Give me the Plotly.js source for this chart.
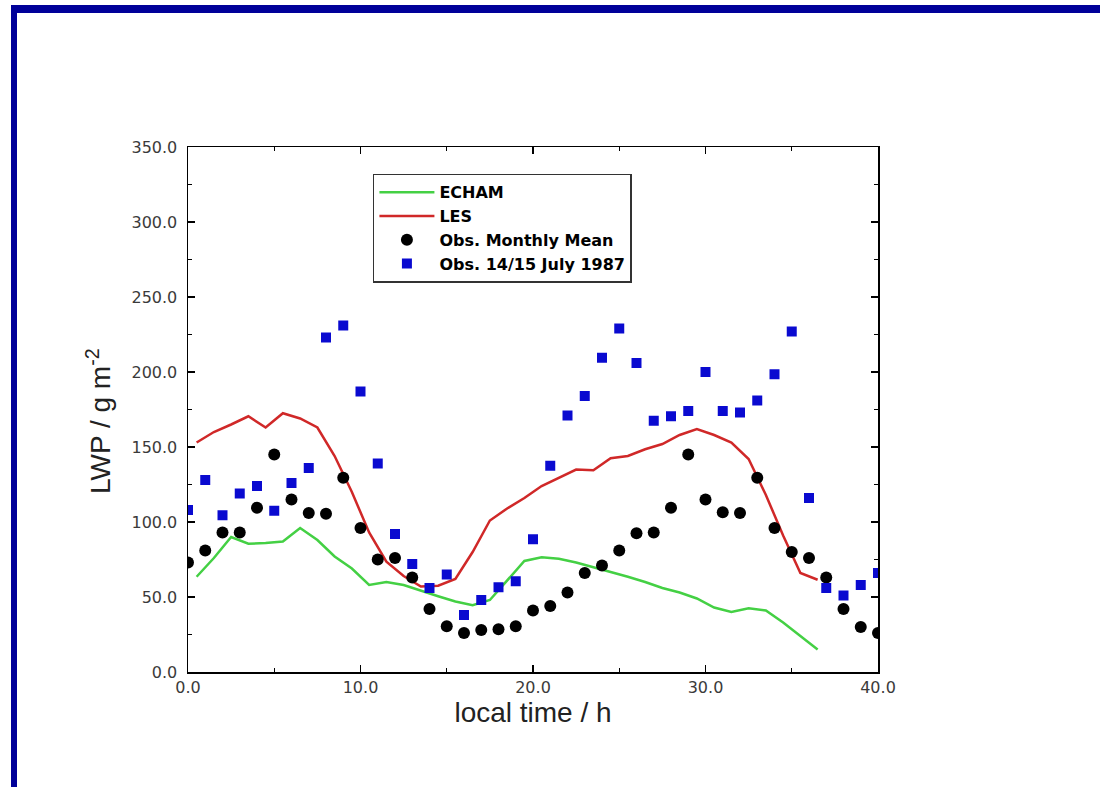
<!DOCTYPE html>
<html>
<head>
<meta charset="utf-8">
<script src="https://cdn.plot.ly/plotly-3.0.1.min.js"></script>
<style>
  html, body { margin: 0; padding: 0; background: #ffffff; }
  #frame { position: absolute; left: 11px; top: 5px; width: 1200px; height: 900px;
           border-left: 6px solid #000099; border-top: 8px solid #000099; }
  #chart { position: absolute; left: 0; top: 0; width: 1100px; height: 787px; }
</style>
</head>
<body>
<div id="frame"></div>
<div id="chart"></div>
<script>
// Observation hours (integer local time)
const obsHours = [0,1,2,3,4,5,6,7,8,9,10,11,12,13,14,15,16,17,18,19,20,
                  21,22,23,24,25,26,27,28,29,30,31,32,33,34,35,36,37,38,39,40];
// Obs. monthly mean (black circles)
const obsMonthly = [73,81,93,93,109.5,145,115,106,105.5,129.5,96,75,76,63,42,30.5,26,28,28.5,30.5,41,
                    44,53,66,71,81,92.5,93,109.5,145,115,106.5,106,129.5,96,80,76,63,42,30,26];
// Obs. 14/15 July 1987 (blue squares)
const obsJuly = [108,128,104.5,119,124,107.5,126,136,223,231,187,139,92,72,56,65,38,48,56.5,60.5,88.5,
                 137.5,171,184,209.5,229,206,167.5,170.5,174,200,174,173,181,198.5,227,116,56,51,58,66];
// Model output hours (half hours)
const modelHours = [0.5,1.5,2.5,3.5,4.5,5.5,6.5,7.5,8.5,9.5,10.5,11.5,12.5,13.5,14.5,15.5,16.5,17.5,
                    18.5,19.5,20.5,21.5,22.5,23.5,24.5,25.5,26.5,27.5,28.5,29.5,30.5,31.5,32.5,33.5,
                    34.5,35.5,36.5];
// LES (red line)
const les = [153,160,165,170.5,163,172.5,169,163,144,120,93,73.5,64,57,57.5,62,80,101,
             109,116,124,129.5,135,134.5,142.5,144,148.5,152,158,162,158,153,142,118,
             91,66,61.5];
// ECHAM (green line)
const echam = [63.5,76,90,85.5,86,87,96,88,77,69,58,60,58,54,50.5,47,44.5,48,
               61,74,76.5,75.5,73,70,67,63.5,60,56,53,49,43,40,42.5,41,
               33,24,15];

const traces = [
  { x: modelHours, y: echam, name: 'ECHAM', type: 'scatter', mode: 'lines',
    line: { color: '#44d044', width: 2.5 } },
  { x: modelHours, y: les, name: 'LES', type: 'scatter', mode: 'lines',
    line: { color: '#d02828', width: 2.5 } },
  { x: obsHours, y: obsMonthly, name: 'Obs. Monthly Mean', type: 'scatter', mode: 'markers',
    marker: { color: '#000000', size: 12, symbol: 'circle' } },
  { x: obsHours, y: obsJuly, name: 'Obs. 14/15 July 1987', type: 'scatter', mode: 'markers',
    marker: { color: '#0a0ad0', size: 10, symbol: 'square' } }
];

const tickFont = { family: 'DejaVu Sans, sans-serif', size: 16, color: '#3a3a3a' };
const titleFont = { family: 'Liberation Sans, Arial, sans-serif', size: 28, color: '#222222' };

const axisCommon = {
  showline: true, linecolor: '#000000', linewidth: 1.5, mirror: 'ticks',
  ticks: 'inside', ticklen: 7, tickwidth: 1.2, tickcolor: '#000000',
  showgrid: false, zeroline: false,
  tickfont: tickFont,
  tickformat: '.1f'
};

const layout = {
  width: 1100, height: 787,
  paper_bgcolor: 'rgba(0,0,0,0)', plot_bgcolor: '#ffffff',
  margin: { l: 188, r: 222, t: 147, b: 115 },
  showlegend: true,
  font: { family: 'Liberation Sans, Arial, sans-serif', color: '#000000' },
  xaxis: Object.assign({}, axisCommon, {
    range: [0, 40], dtick: 10, tick0: 0, ticklabelstandoff: 0,
    minor: { dtick: 5, ticks: 'inside', ticklen: 4, tickcolor: '#000000', tickwidth: 1 },
    title: { text: 'local time / h', font: titleFont, standoff: 0 }
  }),
  yaxis: Object.assign({}, axisCommon, {
    range: [0, 350], dtick: 50, tick0: 0, ticklabelstandoff: 6,
    minor: { dtick: 25, ticks: 'inside', ticklen: 4, tickcolor: '#000000', tickwidth: 1 },
    title: { text: 'LWP / g m<sup>-2</sup>&nbsp;&nbsp;&nbsp;', font: titleFont, standoff: 12 }
  }),
  legend: {
    x: 0.268, y: 0.949, xanchor: 'left', yanchor: 'top',
    bgcolor: '#ffffff', bordercolor: '#333333', borderwidth: 1.5,
    font: { family: 'DejaVu Sans, sans-serif', size: 16, color: '#000000', weight: 'bold' },
    itemwidth: 55, tracegroupgap: 0
  }
};

Plotly.newPlot('chart', traces, layout, { displayModeBar: false, staticPlot: true });
</script>
</body>
</html>
